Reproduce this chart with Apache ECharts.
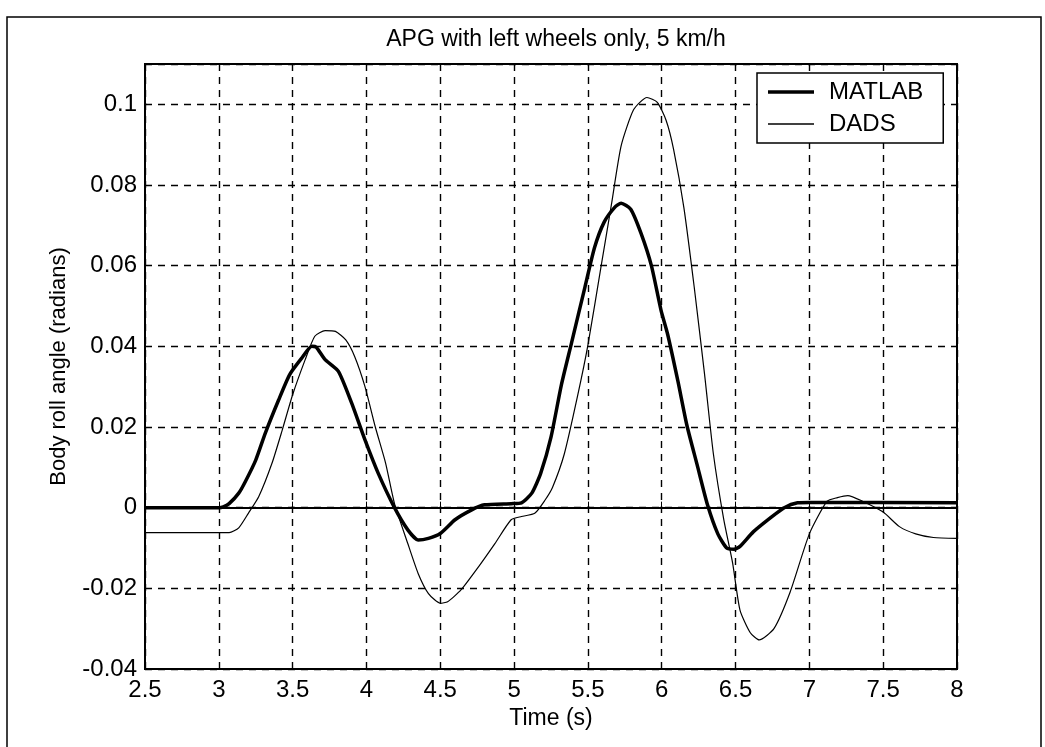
<!DOCTYPE html>
<html>
<head>
<meta charset="utf-8">
<script src="https://cdn.jsdelivr.net/npm/echarts@6/dist/echarts.min.js"></script>
<style>html,body{margin:0;padding:0;background:#fff}#c{width:1045px;height:747px}</style>
</head>
<body>
<div id="c"></div>
<script>
const xTicks = [2.5, 3, 3.5, 4, 4.5, 5, 5.5, 6, 6.5, 7, 7.5, 8];
const yTicks = [-0.04, -0.02, 0, 0.02, 0.04, 0.06, 0.08, 0.1];
const seriesNames = ['MATLAB', 'DADS'];

const matlabT = [2.5, 3.0, 3.03, 3.07, 3.135, 3.18, 3.25, 3.315, 3.405, 3.48, 3.56, 3.63, 3.66, 3.72, 3.81, 3.90, 3.99, 4.08, 4.19, 4.28, 4.35, 4.42, 4.50, 4.60, 4.71, 4.80, 4.98, 5.05, 5.12, 5.18, 5.25, 5.32, 5.39, 5.48, 5.545, 5.61, 5.68, 5.725, 5.79, 5.86, 5.93, 5.995, 6.04, 6.11, 6.17, 6.24, 6.31, 6.38, 6.44, 6.49, 6.53, 6.62, 6.74, 6.83, 6.92, 7.0, 8.0];
const matlabV = [0, 0, 0.0002, 0.001, 0.0036, 0.0065, 0.0118, 0.0185, 0.0267, 0.033, 0.037, 0.040, 0.0398, 0.0367, 0.0338, 0.0259, 0.0168, 0.0085, 0, -0.0055, -0.008, -0.0076, -0.0064, -0.003, -0.0006, 0.0007, 0.001, 0.0012, 0.0036, 0.0085, 0.0175, 0.0304, 0.041, 0.0547, 0.0645, 0.0708, 0.0744, 0.0755, 0.074, 0.068, 0.060, 0.049, 0.043, 0.0313, 0.0205, 0.0106, 0.0007, -0.0065, -0.010, -0.0103, -0.0096, -0.006, -0.0024, 0, 0.0012, 0.0013, 0.0012];

const dadsT = [2.5, 3.07, 3.135, 3.20, 3.27, 3.36, 3.43, 3.50, 3.585, 3.65, 3.72, 3.79, 3.86, 3.92, 3.99, 4.06, 4.13, 4.19, 4.28, 4.35, 4.42, 4.50, 4.55, 4.64, 4.76, 4.87, 4.98, 5.05, 5.14, 5.21, 5.26, 5.34, 5.43, 5.5, 5.59, 5.66, 5.725, 5.81, 5.90, 5.97, 6.03, 6.08, 6.15, 6.22, 6.29, 6.35, 6.42, 6.48, 6.53, 6.60, 6.66, 6.76, 6.87, 7.0, 7.12, 7.19, 7.26, 7.36, 7.5, 7.61, 7.72, 7.84, 8.0];
const dadsV = [-0.0062, -0.0062, -0.005, -0.0014, 0.0027, 0.011, 0.0193, 0.028, 0.0367, 0.0425, 0.0439, 0.0437, 0.0416, 0.0375, 0.030, 0.020, 0.011, 0.001, -0.0089, -0.0163, -0.0213, -0.0237, -0.0233, -0.0204, -0.0146, -0.0089, -0.003, -0.0022, -0.0014, 0.0019, 0.005, 0.0133, 0.0277, 0.0403, 0.060, 0.0753, 0.0897, 0.0987, 0.1017, 0.1005, 0.096, 0.0889, 0.0744, 0.0547, 0.0331, 0.0133, -0.0029, -0.0137, -0.0254, -0.031, -0.0328, -0.030, -0.0209, -0.0065, 0.0016, 0.0025, 0.003, 0.0016, -0.0011, -0.0047, -0.0065, -0.0074, -0.0076];

const pair = (t, v) => t.map((x, i) => [x, v[i]]);
const FONT = '"Liberation Sans", Arial, sans-serif';
const chart = echarts.init(document.getElementById('c'), null, {renderer: 'canvas'});
const gridDash = {show: true, lineStyle: {color: '#000', width: 1.4, type: [7, 6]}};

chart.setOption({
  animation: false,
  backgroundColor: '#fff',
  textStyle: {fontFamily: FONT, color: '#000'},
  title: {
    text: 'APG with left wheels only, 5 km/h',
    left: 551, top: 23, textAlign: 'center',
    textStyle: {fontFamily: FONT, fontSize: 23, fontWeight: 'normal', color: '#000'}
  },
  graphic: [{
    type: 'rect', silent: true, z: -1,
    shape: {x: 7, y: 17, width: 1034, height: 740},
    style: {fill: 'none', stroke: '#000', lineWidth: 1.5}
  }],
  legend: {
    data: [
      {name: seriesNames[0], icon: 'path://M0,0 H46 V3.5 H0 Z'},
      {name: seriesNames[1], icon: 'path://M0,0 H46 V1.3 H0 Z'}
    ],
    orient: 'vertical',
    left: 757, top: 73,
    padding: [7, 20, 7, 11],
    itemWidth: 46, itemHeight: 14, itemGap: 8,
    symbolKeepAspect: true,
    itemStyle: {color: '#000', borderWidth: 0},
    backgroundColor: '#fff',
    borderColor: '#000', borderWidth: 1.5, borderRadius: 0,
    textStyle: {fontFamily: FONT, fontSize: 24, color: '#000', padding: [0, 0, 0, 10]}
  },
  grid: {left: 145, right: 88, top: 64, bottom: 78, show: true, borderColor: '#000', borderWidth: 2, backgroundColor: 'transparent'},
  xAxis: {
    type: 'value', min: 2.5, max: 8, interval: 0.5,
    name: 'Time (s)', nameLocation: 'middle', nameGap: 38,
    nameTextStyle: {fontFamily: FONT, fontSize: 23, color: '#000'},
    axisLine: {show: true, lineStyle: {color: '#000', width: 2}},
    axisTick: {show: true, inside: true, length: 6, lineStyle: {color: '#000'}},
    axisLabel: {fontFamily: FONT, fontSize: 24, color: '#000', margin: 9, formatter: v => String(v)},
    splitLine: gridDash
  },
  yAxis: {
    type: 'value', min: -0.04, max: 0.11, interval: 0.02,
    name: 'Body roll angle (radians)', nameLocation: 'middle', nameGap: 75,
    nameTextStyle: {fontFamily: FONT, fontSize: 22, color: '#000'},
    axisLine: {show: true, lineStyle: {color: '#000', width: 2}},
    axisTick: {show: true, inside: true, length: 6, lineStyle: {color: '#000'}},
    axisLabel: {fontFamily: FONT, fontSize: 24, color: '#000', margin: 8,
      formatter: v => { const r = Math.round(v * 100) / 100; return yTicks.some(t => Math.abs(t - r) < 1e-9) ? String(r) : ''; }},
    splitLine: gridDash
  },
  series: [
    {name: seriesNames[0], type: 'line', data: pair(matlabT, matlabV), showSymbol: false, symbol: 'none', smooth: 0.2,
     lineStyle: {color: '#000', width: 3.5}, itemStyle: {color: '#000'}, z: 3},
    {name: seriesNames[1], type: 'line', data: pair(dadsT, dadsV), showSymbol: false, symbol: 'none', smooth: 0.2,
     lineStyle: {color: '#000', width: 1.2}, itemStyle: {color: '#000'}, z: 2}
  ]
});
</script>
</body>
</html>
